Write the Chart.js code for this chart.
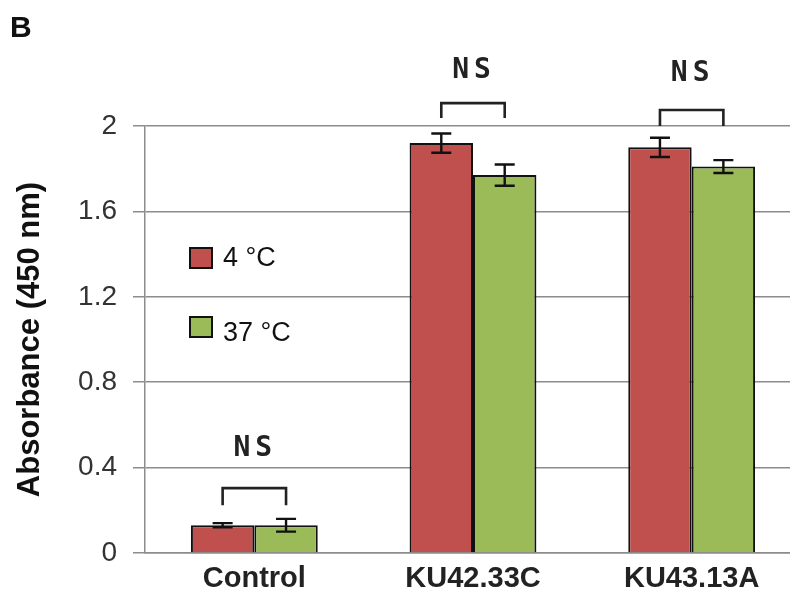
<!DOCTYPE html>
<html>
<head>
<meta charset="utf-8">
<script src="https://cdn.jsdelivr.net/npm/chart.js@4"></script>
<style>
  body { margin: 0; background: #fff; overflow: hidden; }
  #wrap { position: relative; width: 790px; height: 594px; overflow: hidden; }
  #panel { position: absolute; left: 10px; top: 10px; font: bold 30px "Liberation Sans", Arial, sans-serif; color: #111; }
</style>
</head>
<body>
<div id="wrap">
  <!-- plot runs a little past the right edge, as in the cropped figure -->
  <canvas id="absChart" width="801" height="594"></canvas>
  <div id="panel">B</div>
</div>
<script>
const categories = ['Control', 'KU42.33C', 'KU43.13A'];
const seriesLabels = ['4 \u00b0C', '37 \u00b0C'];
const cold = [0.13, 1.92, 1.90];
const warm = [0.13, 1.77, 1.81];
const coldErr = [0.01, 0.045, 0.045];
const warmErr = [0.03, 0.05, 0.03];
const yTicks = [0, 0.4, 0.8, 1.2, 1.6, 2];
const sigText = ['NS', 'NS', 'NS'];

const gridGray = '#8c8c8c';
const fontFamily = '"Liberation Sans", Arial, sans-serif';

// error bars on top of each bar
const errorBars = {
  id: 'errorBars',
  afterDatasetsDraw(chart) {
    const ctx = chart.ctx;
    const y = chart.scales.y;
    const errs = [coldErr, warmErr];
    ctx.save();
    ctx.strokeStyle = '#111';
    ctx.lineWidth = 2.4;
    chart.data.datasets.forEach((ds, di) => {
      chart.getDatasetMeta(di).data.forEach((bar, i) => {
        const v = ds.data[i], e = errs[di][i];
        const yt = y.getPixelForValue(v + e), yb = y.getPixelForValue(v - e);
        ctx.beginPath();
        ctx.moveTo(bar.x, yt); ctx.lineTo(bar.x, yb);
        ctx.moveTo(bar.x - 10, yt); ctx.lineTo(bar.x + 10, yt);
        ctx.moveTo(bar.x - 10, yb); ctx.lineTo(bar.x + 10, yb);
        ctx.stroke();
      });
    });
    ctx.restore();
  }
};

// NS brackets between the two bars of a group
const sigBrackets = {
  id: 'sigBrackets',
  afterDatasetsDraw(chart, args, opts) {
    const ctx = chart.ctx;
    const y = chart.scales.y;
    const a = chart.getDatasetMeta(0).data, b = chart.getDatasetMeta(1).data;
    ctx.save();
    ctx.strokeStyle = '#222';
    ctx.lineWidth = 2.6;
    ctx.fillStyle = '#222';
    ctx.font = 'bold 28px "DejaVu Sans Mono", monospace';
    ctx.textAlign = 'center';
    ctx.textBaseline = 'middle';
    ctx.letterSpacing = '5px';
    opts.levels.forEach((lv, i) => {
      const x1 = a[i].x, x2 = b[i].x;
      const yl = y.getPixelForValue(lv.leg), yt = y.getPixelForValue(lv.top);
      ctx.beginPath();
      ctx.moveTo(x1, yl); ctx.lineTo(x1, yt); ctx.lineTo(x2, yt); ctx.lineTo(x2, yl);
      ctx.stroke();
      ctx.fillText(sigText[i], (x1 + x2) / 2 + 1, y.getPixelForValue(lv.text));
    });
    ctx.restore();
  }
};

// legend drawn inside the plot, stacked
const innerLegend = {
  id: 'innerLegend',
  afterDraw(chart, args, opts) {
    const ctx = chart.ctx;
    ctx.save();
    ctx.font = '27px ' + fontFamily;
    ctx.textBaseline = 'middle';
    chart.data.datasets.forEach((ds, i) => {
      const top = opts.y + i * opts.boxGap;
      ctx.fillStyle = ds.backgroundColor;
      ctx.fillRect(opts.x, top, 22, 20);
      ctx.strokeStyle = '#111';
      ctx.lineWidth = 2;
      ctx.strokeRect(opts.x, top, 22, 20);
      ctx.fillStyle = '#111';
      ctx.fillText(ds.label, opts.x + 33, opts.y + 11 + i * opts.textGap);
    });
    ctx.restore();
  }
};

const ctx = document.getElementById('absChart').getContext('2d');
new Chart(ctx, {
  type: 'bar',
  data: {
    labels: categories,
    datasets: [
      { label: seriesLabels[0], data: cold, backgroundColor: '#C0504D', borderColor: '#111', borderWidth: 2 },
      { label: seriesLabels[1], data: warm, backgroundColor: '#9BBB59', borderColor: '#111', borderWidth: 2 }
    ]
  },
  options: {
    responsive: false,
    animation: false,
    devicePixelRatio: 1,
    layout: { padding: { top: 126, right: 0, bottom: 0, left: 0 } },
    datasets: { bar: { barPercentage: 1, categoryPercentage: 0.58 } },
    plugins: {
      legend: { display: false },
      tooltip: { enabled: false },
      errorBars: {},
      sigBrackets: {
        levels: [
          { leg: 0.224, top: 0.304, text: 0.49 },
          { leg: 2.037, top: 2.107, text: 2.257 },
          { leg: 2.0, top: 2.075, text: 2.243 }
        ]
      },
      innerLegend: { x: 190, y: 248, boxGap: 69, textGap: 75 }
    },
    scales: {
      x: {
        grid: { display: false, drawTicks: false },
        border: { display: true, color: gridGray, width: 1.5 },
        ticks: {
          padding: 9,
          color: '#222',
          font: { family: fontFamily, size: 29, weight: 'bold' }
        },
        afterFit(s) { s.height = 41; }
      },
      y: {
        min: 0,
        max: 2,
        afterBuildTicks(s) { s.ticks = yTicks.map(v => ({ value: v })); },
        grid: { color: gridGray, lineWidth: 1.5, tickLength: 12 },
        border: { display: true, color: gridGray, width: 1.5 },
        ticks: {
          padding: 16,
          color: '#333',
          font: { family: fontFamily, size: 28 },
          callback: v => String(+v.toFixed(1))
        },
        title: {
          display: true,
          text: 'Absorbance (450 nm)',
          color: '#111',
          padding: { top: 12, bottom: 0 },
          font: { family: fontFamily, size: 31, weight: 'bold' }
        },
        afterFit(s) { s.width = 145; }
      }
    }
  },
  plugins: [errorBars, sigBrackets, innerLegend]
});
</script>
</body>
</html>
